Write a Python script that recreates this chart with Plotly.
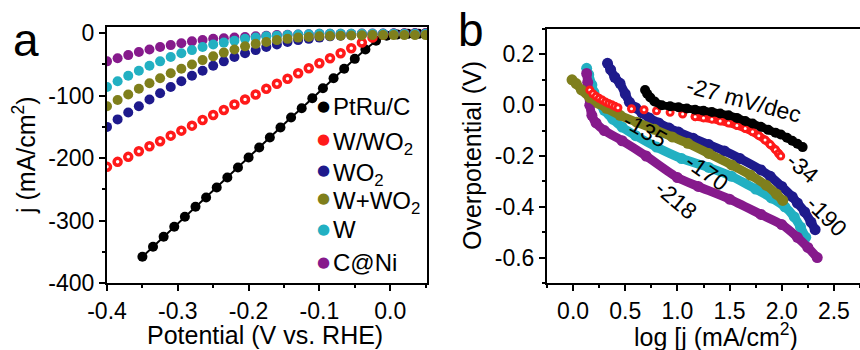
import plotly.graph_objects as go

# ---------------- Panel a data (LSV curves) ----------------
V_common = [-0.4, -0.385, -0.37, -0.355, -0.34, -0.325, -0.31, -0.295, -0.28, -0.265,
            -0.25, -0.235, -0.22, -0.205, -0.19, -0.175, -0.16, -0.145, -0.13, -0.115,
            -0.1, -0.085, -0.07, -0.055, -0.04, -0.025, -0.01, 0.005, 0.02, 0.035, 0.05]
V_ptru = [-0.35, -0.335, -0.32, -0.305, -0.29, -0.275, -0.26, -0.245, -0.23, -0.215,
          -0.2, -0.185, -0.17, -0.155, -0.14, -0.125, -0.11, -0.095, -0.08, -0.065,
          -0.05, -0.035, -0.02, -0.005, 0.01, 0.025, 0.04]
j_ptru = [-358, -342, -326, -310, -294, -278, -263, -247, -231, -215, -199, -183, -167,
          -151, -135, -120, -104, -88, -72, -57, -41, -26, -12, -4, -2, -1, -1]
j_wwo2 = [-214, -206, -198, -189, -181, -173, -164, -156, -148, -139, -131, -123, -114,
          -106, -98, -89, -81, -73, -64, -56, -48, -40, -32, -24, -15, -7, -2, -1, -0.5,
          -0.3, -0.2]
j_wo2 = [-150, -138, -127, -117, -106, -96, -86, -77, -68, -60, -52, -45, -38, -32, -27,
         -22, -18, -14, -11, -9, -7, -5, -4, -3, -2, -1.5, -1, -0.5, -0.3, -0.2, -0.1]
j_wpwo2 = [-117, -107, -98, -89, -80, -72, -64, -57, -50, -43, -37, -31, -26, -21, -17,
           -14, -11, -9, -7, -6, -5, -4.5, -4, -3.5, -3.2, -3, -3, -3, -3, -3, -3]
j_w = [-86, -77, -68, -60, -52, -45, -38, -32, -27, -22, -18, -15, -12, -9, -7, -5, -4,
       -3, -2, -1.5, -1, -1, -1, -1, -1, -1, -1, -1, -1, -1, -1]
j_cni = [-45, -40, -35, -30, -26, -22, -19, -16, -13, -11, -9, -8, -7, -6, -5, -4, -3,
         -2.5, -2, -1.5, -1, -1, -1, -1, -0.5, -0.5, -0.5, -0.5, -0.5, -0.5, -0.5]

# ---------------- Panel b data (Tafel plots) ----------------
tb_ptru_x = [0.69, 0.71, 0.74, 0.78, 0.85, 0.93, 1.01, 1.09, 1.17, 1.25, 1.33, 1.41, 1.49,
             1.57, 1.65, 1.72, 1.80, 1.87, 1.94, 1.99, 2.05, 2.10, 2.15, 2.20]
tb_ptru_y = [0.06, 0.045, 0.03, 0.015, 0.0, -0.004, -0.008, -0.013, -0.018, -0.022, -0.027,
             -0.033, -0.04, -0.05, -0.062, -0.072, -0.085, -0.097, -0.108, -0.115, -0.128,
             -0.14, -0.152, -0.165]
tb_wwo2_head_x = [0.16, 0.19, 0.22, 0.25, 0.28, 0.31, 0.34, 0.37, 0.40, 0.43,
                  0.56, 0.68, 0.80, 0.93, 1.05, 1.17]
tb_wwo2_head_y = [0.06, 0.045, 0.035, 0.027, 0.02, 0.013, 0.007, 0.002, -0.004, -0.01,
                  -0.014, -0.018, -0.022, -0.028, -0.035, -0.045]
tb_wwo2_tail_x = [1.17, 1.25, 1.33, 1.41, 1.49, 1.57, 1.65, 1.72, 1.78, 1.84, 1.89, 1.94,
                  1.97, 1.99]
tb_wwo2_tail_y = [-0.045, -0.05, -0.055, -0.062, -0.07, -0.08, -0.092, -0.105, -0.12,
                  -0.137, -0.155, -0.175, -0.19, -0.20]
tb_wo2_x = [0.33, 0.36, 0.40, 0.45, 0.50, 0.54, 0.60, 0.66, 0.73, 0.82, 0.92, 1.01, 1.15,
            1.30, 1.45, 1.60, 1.80, 1.89, 2.00, 2.10, 2.15, 2.22, 2.28, 2.32]
tb_wo2_y = [0.165, 0.14, 0.11, 0.086, 0.045, 0.012, -0.01, -0.03, -0.05, -0.07, -0.09,
            -0.106, -0.13, -0.155, -0.18, -0.21, -0.255, -0.28, -0.32, -0.36, -0.385,
            -0.42, -0.46, -0.49]
tb_wpwo2_x = [-0.01, 0.03, 0.08, 0.16, 0.24, 0.32, 0.45, 0.61, 0.78, 0.95, 1.10, 1.30,
              1.52, 1.70, 1.85, 1.95, 2.01]
tb_wpwo2_y = [0.10, 0.085, 0.06, 0.03, 0.008, -0.012, -0.04, -0.067, -0.095, -0.125,
              -0.15, -0.19, -0.235, -0.275, -0.315, -0.35, -0.375]
tb_w_x = [0.13, 0.15, 0.18, 0.20, 0.23, 0.30, 0.38, 0.47, 0.60, 0.80, 1.04, 1.30, 1.52,
          1.75, 1.90, 2.03, 2.12, 2.18, 2.23]
tb_w_y = [0.145, 0.12, 0.08, 0.05, 0.02, -0.02, -0.055, -0.086, -0.12, -0.165, -0.21,
          -0.245, -0.28, -0.33, -0.365, -0.40, -0.44, -0.48, -0.52]
tb_cni_x = [0.13, 0.14, 0.15, 0.16, 0.18, 0.22, 0.30, 0.47, 0.70, 1.00, 1.20, 1.50, 1.80,
            2.00, 2.15, 2.25, 2.34]
tb_cni_y = [0.125, 0.09, 0.05, 0.0, -0.04, -0.07, -0.10, -0.14, -0.20, -0.285, -0.32,
            -0.37, -0.43, -0.47, -0.52, -0.56, -0.60]

# Tafel slope labels
slope_text = ["-27 mV/dec", "-34", "-135", "-170", "-218", "-190"]
slope_x = [1.64, 2.20, 0.69, 1.28, 0.99, 2.43]
slope_y = [0.02, -0.247, -0.098, -0.263, -0.373, -0.435]
slope_angle = [15, 40, 30, 35, 40, 45]

# Tick labels
a_xticks = [-0.4, -0.3, -0.2, -0.1, 0.0]
a_xticktext = ["-0.4", "-0.3", "-0.2", "-0.1", "0.0"]
a_xminor = [-0.35, -0.25, -0.15, -0.05, 0.05]
a_yticks = [0, -100, -200, -300, -400]
a_yticktext = ["0", "-100", "-200", "-300", "-400"]
a_yminor = [-50, -150, -250, -350]
b_xticks = [0.0, 0.5, 1.0, 1.5, 2.0, 2.5]
b_xticktext = ["0.0", "0.5", "1.0", "1.5", "2.0", "2.5"]
b_xminor = [-0.25, 0.25, 0.75, 1.25, 1.75, 2.25, 2.75]
b_yticks = [0.2, 0.0, -0.2, -0.4, -0.6]
b_yticktext = ["0.2", "0.0", "-0.2", "-0.4", "-0.6"]
b_yminor = [0.3, 0.1, -0.1, -0.3, -0.5, -0.7]

# Legend (panel a), in legend order
legend_names = ["PtRu/C", "W/WO<sub>2</sub>", "WO<sub>2</sub>", "W+WO<sub>2</sub>", "W", "C@Ni"]

BLACK, RED, NAVY, OLIVE, CYAN, PURPLE = "#000000", "#ff1a1a", "#1e1a8c", "#7f7f1c", "#22b0c2", "#861a8c"
legend_colors = [BLACK, RED, NAVY, OLIVE, CYAN, PURPLE]

FONT = "Liberation Sans, Arial, sans-serif"
W, H = 860, 350
fig = go.Figure()

# ---- panel a traces ----
fig.add_trace(go.Scatter(x=V_ptru, y=j_ptru, mode="lines", line=dict(color=BLACK, width=2),
                         showlegend=False, xaxis="x", yaxis="y", hoverinfo="skip"))
fig.add_trace(go.Scatter(x=V_ptru, y=j_ptru, mode="markers", name="PtRu/C", showlegend=False,
                         marker=dict(color=BLACK, size=10), xaxis="x", yaxis="y"))
fig.add_trace(go.Scatter(x=V_common, y=j_wwo2, mode="markers", name="W/WO2", showlegend=False,
                         marker=dict(color="white", size=7, line=dict(color=RED, width=3.5)),
                         xaxis="x", yaxis="y"))
fig.add_trace(go.Scatter(x=V_common, y=j_wo2, mode="markers", name="WO2", showlegend=False,
                         marker=dict(color=NAVY, size=10), xaxis="x", yaxis="y"))
fig.add_trace(go.Scatter(x=V_common, y=j_cni, mode="markers", name="C@Ni", showlegend=False,
                         marker=dict(color=PURPLE, size=10), xaxis="x", yaxis="y"))
fig.add_trace(go.Scatter(x=V_common, y=j_w, mode="markers", name="W", showlegend=False,
                         marker=dict(color=CYAN, size=10), xaxis="x", yaxis="y"))
fig.add_trace(go.Scatter(x=V_common, y=j_wpwo2, mode="markers", name="W+WO2", showlegend=False,
                         marker=dict(color=OLIVE, size=10), xaxis="x", yaxis="y"))

# ---- panel b traces ----
def band(x, y, color, lw=9, ms=11):
    fig.add_trace(go.Scatter(x=x, y=y, mode="lines+markers", showlegend=False,
                             line=dict(color=color, width=lw, shape="spline", smoothing=0.6),
                             marker=dict(color=color, size=ms), xaxis="x2", yaxis="y2",
                             hoverinfo="skip"))

band(tb_wo2_x, tb_wo2_y, NAVY)
band(tb_w_x, tb_w_y, CYAN)
band(tb_cni_x, tb_cni_y, PURPLE)
band(tb_wpwo2_x, tb_wpwo2_y, OLIVE)
fig.add_trace(go.Scatter(x=tb_wwo2_tail_x, y=tb_wwo2_tail_y, mode="lines", showlegend=False,
                         line=dict(color=RED, width=8, shape="spline"), xaxis="x2", yaxis="y2",
                         hoverinfo="skip"))
fig.add_trace(go.Scatter(x=tb_wwo2_head_x + tb_wwo2_tail_x, y=tb_wwo2_head_y + tb_wwo2_tail_y,
                         mode="markers", showlegend=False,
                         marker=dict(color="white", size=6, line=dict(color=RED, width=3)),
                         xaxis="x2", yaxis="y2", hoverinfo="skip"))
band(tb_ptru_x, tb_ptru_y, BLACK, lw=8, ms=10)

axis_common = dict(showline=True, linecolor="black", linewidth=2, mirror=True,
                   ticks="outside", ticklen=6, tickwidth=2, tickcolor="black",
                   showgrid=False, zeroline=False, automargin=False,
                   tickfont=dict(family=FONT, size=23, color="black"))
minor_common = dict(ticks="outside", ticklen=3, tickwidth=2, tickcolor="black")

fig.update_layout(
    width=W, height=H,
    margin=dict(l=0, r=0, t=0, b=0, autoexpand=False),
    paper_bgcolor="white", plot_bgcolor="white",
    font=dict(family=FONT, color="black"),
    showlegend=False,
    xaxis=dict(domain=[107 / W, 427 / W], range=[-0.4, 0.052], anchor="y",
               tickvals=a_xticks, ticktext=a_xticktext,
               minor=dict(tickvals=a_xminor, **minor_common), **axis_common),
    yaxis=dict(domain=[1 - 283 / H, 1 - 27 / H], range=[-400, 10], anchor="x",
               tickvals=a_yticks, ticktext=a_yticktext,
               minor=dict(tickvals=a_yminor, **minor_common), **axis_common),
    xaxis2=dict(domain=[547 / W, 1.0], range=[-0.25, 2.75], anchor="y2",
                tickvals=b_xticks, ticktext=b_xticktext,
                minor=dict(tickvals=b_xminor, **minor_common), **axis_common),
    yaxis2=dict(domain=[1 - 283 / H, 1 - 29 / H], range=[-0.7, 0.3], anchor="x2",
                tickvals=b_yticks, ticktext=b_yticktext,
                minor=dict(tickvals=b_yminor, **minor_common), **axis_common),
)

for t, x, y, a in zip(slope_text, slope_x, slope_y, slope_angle):
    fig.add_annotation(text=t, x=x, y=y, xref="x2", yref="y2", showarrow=False,
                       textangle=a, font=dict(family=FONT, size=23, color="black"))

# legend drawn as annotations (uniform row spacing like the original)
legend_rows_px = [106, 139, 170, 198, 229, 262]
for name, col, py in zip(legend_names, legend_colors, legend_rows_px):
    fig.add_annotation(text="●", x=323 / W, y=1 - py / H, xref="paper", yref="paper",
                       showarrow=False, xanchor="center", yanchor="middle",
                       font=dict(family="DejaVu Sans", size=15, color=col))
    shift = 4 if "<sub>" in name else 0
    fig.add_annotation(text=name, x=331 / W, y=1 - (py + shift) / H, xref="paper", yref="paper",
                       showarrow=False, xanchor="left", yanchor="middle",
                       font=dict(family=FONT, size=24, color="black"))

# axis titles
titles = [("Potential (V vs. RHE)", 265, 335, 0),
          ("j (mA/cm<sup>2</sup>)", 24, 155, -90),
          ("log [j (mA/cm<sup>2</sup>)", 716, 335, 0),
          ("Overpotential (V)", 472, 156, -90)]
for t, px, py, ang in titles:
    fig.add_annotation(text=t, x=px / W, y=1 - py / H, xref="paper", yref="paper",
                       showarrow=False, textangle=ang, xanchor="center", yanchor="middle",
                       font=dict(family=FONT, size=25, color="black"))

fig.add_annotation(text="a", x=11 / W, y=1 - 12 / H, xref="paper", yref="paper", showarrow=False,
                   xanchor="left", yanchor="top", font=dict(family=FONT, size=46, color="black"))
fig.add_annotation(text="b", x=456 / W, y=1 - 2 / H, xref="paper", yref="paper", showarrow=False,
                   xanchor="left", yanchor="top", font=dict(family=FONT, size=46, color="black"))

fig.write_html("out.html", config={"displayModeBar": False},
               post_script="document.body.style.margin='0';document.body.style.overflow='hidden';")
